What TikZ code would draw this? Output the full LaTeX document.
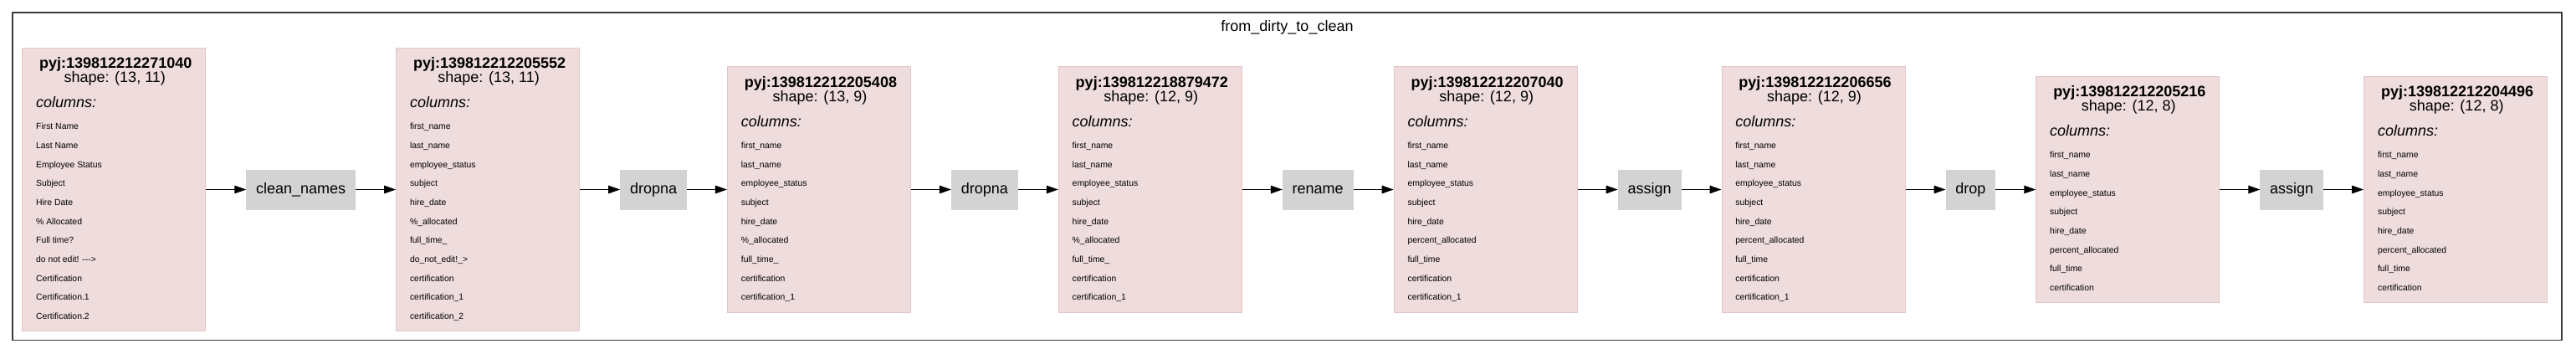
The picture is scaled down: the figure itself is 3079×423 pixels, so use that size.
\documentclass[tikz,border=0pt]{standalone}
\usepackage{fontspec}
\setmainfont{Liberation Sans}
\usetikzlibrary{positioning,calc,arrows.meta}

\definecolor{dffill}{HTML}{EFDCDD}
\definecolor{dfline}{HTML}{E4C6C7}
\definecolor{opfill}{HTML}{D3D3D3}
\definecolor{frameline}{HTML}{3A3A3A}

\tikzset{
  dfbox/.style={draw=dfline, fill=dffill, line width=0.5pt, minimum width=109.5pt, inner sep=0pt},
  opbox/.style={draw=opfill, fill=opfill, line width=0.5pt, minimum height=23.5pt,
    inner xsep=5.7pt, inner ysep=0pt, font=\fontsize{9}{11}\selectfont},
  dftitle/.style={anchor=base, inner sep=0pt, font=\fontsize{9}{11}\selectfont\bfseries},
  dfshape/.style={anchor=base, inner sep=0pt, font=\fontsize{9}{11}\selectfont},
  dfhead/.style={anchor=base west, inner sep=0pt, font=\fontsize{9}{11}\selectfont\itshape},
  dfcol/.style={anchor=base west, inner sep=0pt, font=\fontsize{5.2}{6}\selectfont},
  flow/.style={-{Triangle[length=7pt,width=4.8pt]}, line width=0.5pt},
}

% dataframe box: name, placement, id, shape, number of columns, columns
\newcommand{\dfnode}[6]{%
  \node[dfbox, minimum height={(89+#5*22.7)*0.5pt}, #2] (#1) {};
  \node[dftitle] (#1-id) at ($(#1.north)+(2,25)$) {pyj:#3};
  \node[dfshape] (#1-shape) at ($(#1.north)+(1,42)$) {shape: #4};
  \node[dfhead] (#1-head) at ($(#1.north west)+(16.5,72)$) {columns:};
  \foreach \col [count=\i] in {#6}
    \node[dfcol] (#1-col\i) at ($(#1.north west)+(16.5,{98+(\i-1)*22.7})$) {\col};
}

\begin{document}
\begin{tikzpicture}[x=0.5pt, y=-0.5pt]
  \useasboundingbox (0,0) rectangle (3079,423);

  % 1. Khung ngoai va ten
  \draw[draw=frameline, line width=0.85pt] (15,15) rectangle (3062,406.5);
  \node[anchor=base, inner sep=0pt, font=\fontsize{9}{11}\selectfont] (flowname) at (1538.5,37) {from\_dirty\_to\_clean};

  % 2. Cac bang du lieu va cac buoc xu ly
  \dfnode{df1}{at={(136.25,226.5)}}{139812212271040}{(13, 11)}{11}{First Name, Last Name, Employee Status, Subject, Hire Date, \% Allocated, Full time?, do not edit! -{}-{}->, Certification, Certification.1, Certification.2}
  \node[opbox, right=24pt of df1] (op1) {clean\_names};
  \dfnode{df2}{right=24pt of op1}{139812212205552}{(13, 11)}{11}{first\_name, last\_name, employee\_status, subject, hire\_date, \%\_allocated, full\_time\_, do\_not\_edit!\_>, certification, certification\_1, certification\_2}
  \node[opbox, right=24pt of df2] (op2) {dropna};
  \dfnode{df3}{right=24pt of op2}{139812212205408}{(13, 9)}{9}{first\_name, last\_name, employee\_status, subject, hire\_date, \%\_allocated, full\_time\_, certification, certification\_1}
  \node[opbox, right=24pt of df3] (op3) {dropna};
  \dfnode{df4}{right=24pt of op3}{139812218879472}{(12, 9)}{9}{first\_name, last\_name, employee\_status, subject, hire\_date, \%\_allocated, full\_time\_, certification, certification\_1}
  \node[opbox, right=24pt of df4] (op4) {rename};
  \dfnode{df5}{right=24pt of op4}{139812212207040}{(12, 9)}{9}{first\_name, last\_name, employee\_status, subject, hire\_date, percent\_allocated, full\_time, certification, certification\_1}
  \node[opbox, right=24pt of df5] (op5) {assign};
  \dfnode{df6}{right=24pt of op5}{139812212206656}{(12, 9)}{9}{first\_name, last\_name, employee\_status, subject, hire\_date, percent\_allocated, full\_time, certification, certification\_1}
  \node[opbox, right=24pt of df6] (op6) {drop};
  \dfnode{df7}{right=24pt of op6}{139812212205216}{(12, 8)}{8}{first\_name, last\_name, employee\_status, subject, hire\_date, percent\_allocated, full\_time, certification}
  \node[opbox, right=24pt of df7] (op7) {assign};
  \dfnode{df8}{right=24pt of op7}{139812212204496}{(12, 8)}{8}{first\_name, last\_name, employee\_status, subject, hire\_date, percent\_allocated, full\_time, certification}

  % 3. Mui ten
  \foreach \a/\b in {df1/op1, op1/df2, df2/op2, op2/df3, df3/op3, op3/df4, df4/op4,
      op4/df5, df5/op5, op5/df6, df6/op6, op6/df7, df7/op7, op7/df8}
    \draw[flow] (\a) -- (\b);
\end{tikzpicture}
\end{document}
